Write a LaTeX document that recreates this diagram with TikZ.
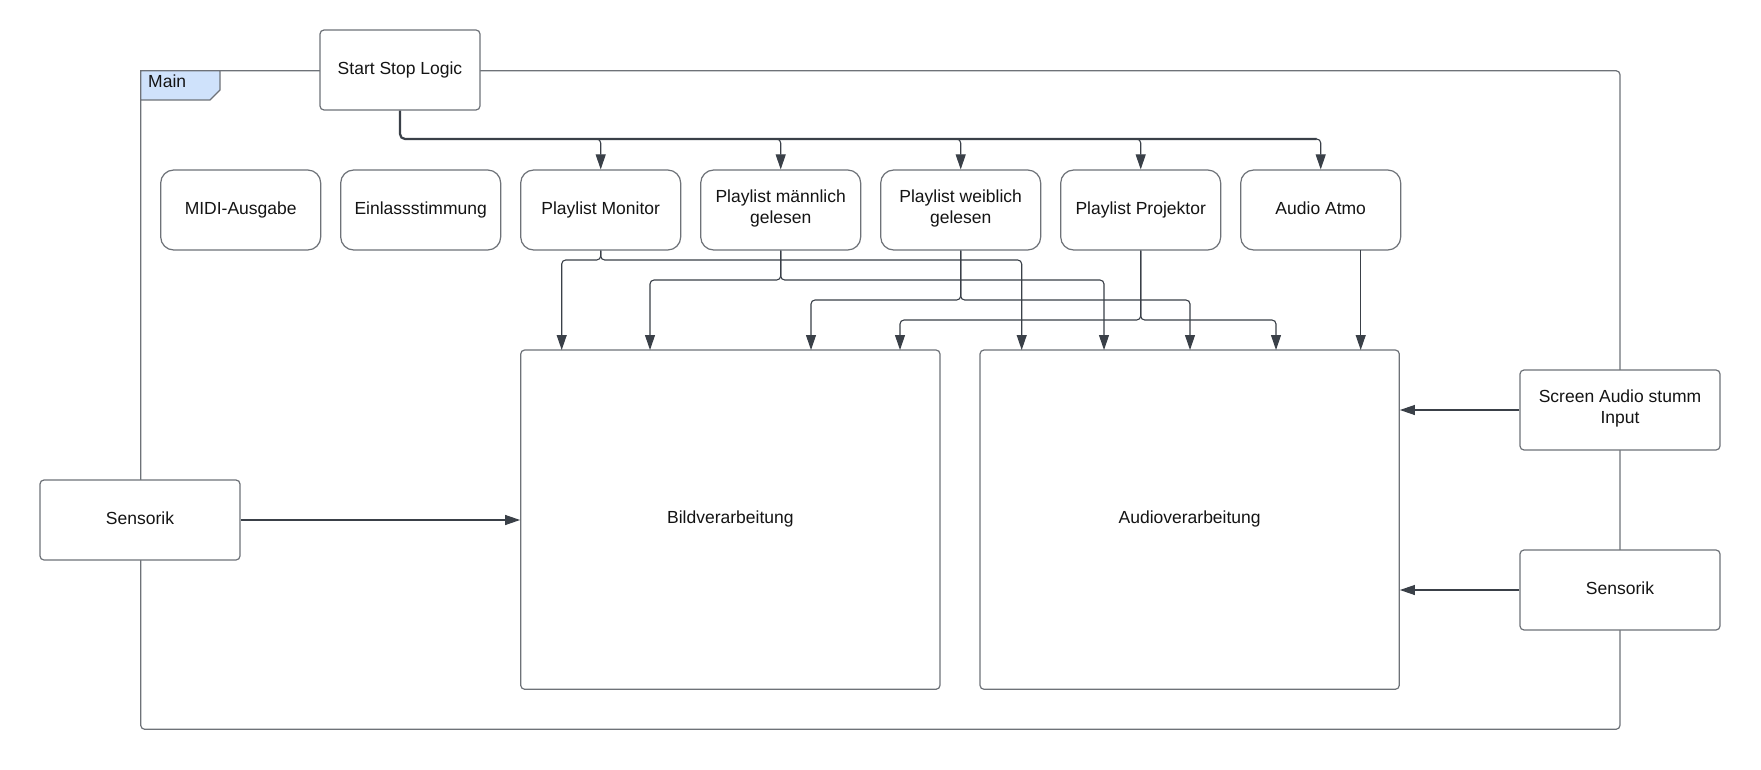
\documentclass[tikz,border=0pt]{standalone}
\usepackage{fontspec}
\setmainfont{Liberation Sans}
\usetikzlibrary{arrows.meta,calc}
\definecolor{bordercol}{RGB}{110,114,120}
\definecolor{linecol}{RGB}{58,64,72}
\definecolor{tabfill}{RGB}{207,226,251}
\definecolor{txt}{RGB}{20,20,20}
\tikzset{
  basebox/.style={draw=bordercol, line width=1.2pt, fill=white, align=center, text=txt,
    font=\fontsize{17.5}{21.5}\selectfont, inner sep=0pt,
    execute at begin node=\strut, execute at end node=\strut},
  sqbox/.style={basebox, rounded corners=4pt, minimum width=200pt, minimum height=80pt},
  rbox/.style={basebox, rounded corners=13pt, minimum width=160pt, minimum height=80pt},
  bigbox/.style={basebox, rounded corners=4pt, minimum width=419.3pt, minimum height=339.3pt},
  conn/.style={draw=linecol, line width=1.1pt, rounded corners=4pt,
    -{Triangle[length=15pt,width=10pt]}},
  busline/.style={draw=linecol, line width=2.2pt, rounded corners=5pt},
  framecol/.style={draw=bordercol, line width=1.2pt}
}
\begin{document}
\begin{tikzpicture}[x=1pt,y=-1pt]
\useasboundingbox (0,0) rectangle (1761,770);
\fill[white] (0,0) rectangle (1761,770);
% main frame
\draw[framecol, rounded corners=4pt] (140.7,70.7) rectangle (1620,729.3);
\filldraw[framecol, fill=tabfill, rounded corners=0pt] (140.7,70.7) -- (220,70.7) -- (220,90) -- (210,100) -- (140.7,100) -- cycle;
\node[anchor=base west, text=txt, font=\fontsize{17.5}{20}\selectfont, inner sep=0pt] (mainlbl) at (148,87.5) {Main};

% nodes
\node[sqbox, minimum width=160pt] (ssl) at (400,70) {Start Stop Logic};
\node[rbox] (midi) at (240.7,210) {MIDI-Ausgabe};
\node[rbox] (einl) at (420.7,210) {Einlassstimmung};
\node[rbox] (pm) at (600.7,210) {Playlist Monitor};
\node[rbox] (pmann) at (780.7,210) {Playlist männlich\\gelesen};
\node[rbox] (pweib) at (960.7,210) {Playlist weiblich\\gelesen};
\node[rbox] (pproj) at (1140.7,210) {Playlist Projektor};
\node[rbox] (atmo) at (1320.7,210) {Audio Atmo};
\node[bigbox] (bild) at (730.35,519.65) {Bildverarbeitung};
\node[bigbox] (audio) at (1189.65,519.65) {Audioverarbeitung};
\node[sqbox] (sensL) at (140,520) {Sensorik};
\node[sqbox] (scr) at (1620,410) {Screen Audio stumm\\Input};
\node[sqbox] (sensR) at (1620,590) {Sensorik};

% coordinates
\coordinate (bus) at (400,139);
\coordinate (b1) at (561.7,350);
\coordinate (b2) at (650,350);
\coordinate (b3) at (811,350);
\coordinate (b4) at (900,350);
\coordinate (a1) at (1021.7,350);
\coordinate (a2) at (1104,350);
\coordinate (a3) at (1190,350);
\coordinate (a4) at (1276,350);
\coordinate (a5) at (1360.7,350);
\coordinate (atmoout) at (1360.7,250);

% start stop bus
\draw[busline] (ssl.south) |- ($(atmo.north |- bus)+(-4,0)$);
\foreach \t in {pm,pmann,pweib,pproj,atmo}{
  \draw[conn] ($(\t.north |- bus)+(-6,0)$) -| (\t.north);
}

% playlist connectors
\draw[conn] (pm.south) |- (b1 |- 0,260) -- (b1);
\draw[conn] (pm.south) |- (a1 |- 0,260) -- (a1);
\draw[conn] (pmann.south) |- (b2 |- 0,280) -- (b2);
\draw[conn] (pmann.south) |- (a2 |- 0,280) -- (a2);
\draw[conn] (pweib.south) |- (b3 |- 0,300) -- (b3);
\draw[conn] (pweib.south) |- (a3 |- 0,300) -- (a3);
\draw[conn] (pproj.south) |- (b4 |- 0,320) -- (b4);
\draw[conn] (pproj.south) |- (a4 |- 0,320) -- (a4);
\draw[conn] (atmoout) -- (a5);

% side connectors
\draw[conn] (sensL.east) -- (sensL.east -| bild.west);
\draw[conn] (scr.west) -- (scr.west -| audio.east);
\draw[conn] (sensR.west) -- (sensR.west -| audio.east);
\end{tikzpicture}
\end{document}
